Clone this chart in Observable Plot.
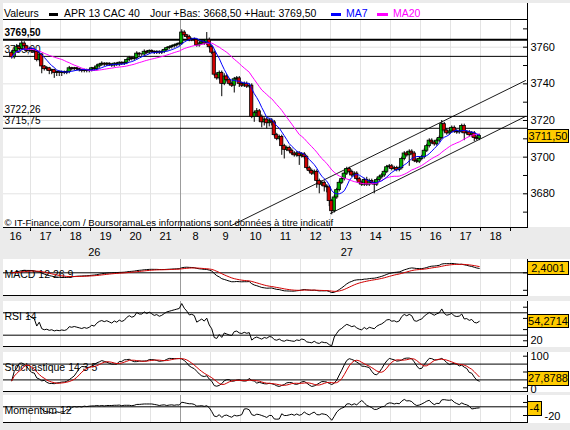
<!DOCTYPE html>
<html><head><meta charset="utf-8">
<script src="https://cdn.jsdelivr.net/npm/d3@7"></script>
<script src="https://cdn.jsdelivr.net/npm/@observablehq/plot@0.6"></script>
<style>
html,body{margin:0;padding:0;background:#ebebeb;}
#wrap{position:relative;width:570px;height:430px;overflow:hidden;background:#ebebeb;font-family:"Liberation Sans",Arial,sans-serif;font-size:11px;color:#000;}
.white{position:absolute;background:#fff;}
.frame{position:absolute;box-sizing:border-box;border-right:1px solid #000;border-bottom:1px solid #000;}
.box{position:absolute;box-sizing:border-box;background:#ffcc00;border:1px solid #000;text-align:center;font-size:11px;line-height:12px;height:14px;}
.hdr{position:absolute;top:7px;font-size:10.5px;line-height:12px;white-space:nowrap;}
.sw{position:absolute;top:13px;height:3px;}
#wrap svg{position:absolute;left:0;overflow:visible;}
</style></head>
<body><div id="wrap"></div>
<script>
// ---------- data ----------
const hourLabels = ["16","17","18","19","20","21","8","9","10","11","12","13","14","15","16","17","18"];
const dayLabels = ["26","27"];
const dayLabelBars = [33, 134];
const firstOpen = 3757;
const closes = [
3754.5,3758,3760,3759,3762,3760.5,3758,3759,3758,3757.5,
3753,3756,3749.5,3748,3748.5,3747,3747.5,3746,3746.5,3746,
3746.5,3746,3746.5,3748.5,3748,3748.5,3748,3747.5,3747,3747.5,
3747,3747.5,3748.5,3748,3749.5,3750.5,3751,3750.5,3751,3750.5,
3750,3751,3750.5,3751.5,3751,3751.5,3753,3754,3753.5,3754,
3756.5,3756,3756,3757.5,3757,3758,3757.5,3757,3757.5,3757,
3757.5,3758.5,3759.5,3760,3760.5,3761,3761.5,3762,3768,3766.5,
3765.5,3764,3764.5,3764,3761,3762,3763,3762,3764,3760,
3757,3745,3743,3746,3740,3744,3742,3740,3739,3742.5,
3743,3740,3739,3740,3738.5,3739,3722,3724,3725,3722,
3719,3720.5,3718.5,3720,3719,3712,3710,3711,3706,3704,
3705,3703.5,3702,3701,3702,3700.5,3701.5,3700,3694,3692.5,
3691,3692,3687,3685,3686,3684,3683.5,3676,3670.5,3678,
3682,3686,3688,3691,3693.5,3692,3690,3691,3688,3686,
3685,3687.5,3685,3687,3686,3685,3687.5,3689,3690,3692,
3694.5,3695,3693.5,3694,3693,3694,3699,3702,3701,3703,
3702,3698,3697.5,3699,3700,3703.5,3706,3709,3708,3707,
3709,3710.5,3718,3714.5,3713,3714,3716,3714,3713.5,3714,
3717,3713,3713.5,3712,3713,3710.5,3710,3711.5];
const hiExt = [
1,1,1.5,1,1.5,1,0.5,1,0.5,0.5, 0.5,1,0.5,0.5,1,0.5,0.5,0.5,0.5,0.5,
0.5,0.5,0.5,1,0.5,0.5,0.5,0.5,0.5,0.5, 0.5,0.5,0.5,0.5,1,0.5,1,0.5,0.5,0.5,
0.5,0.5,0.5,0.5,0.5,0.5,0.5,1,0.5,0.5, 1,0.5,0.5,1,0.5,0.5,0.5,0.5,0.5,0.5,
0.5,0.5,0.5,0.5,0.5,0.5,0.5,0.5,1.5,1, 0.5,1,0.5,0.5,0.5,0.5,0.5,0.5,4,1,
1,1,1,1,1,1.5,1,1,1,1, 1,1,1,1,1,1,1,1,1.5,1,
1,1,1,1,1,1,1,1,1,1, 1,1,1,1,1,1,1,1,1,1,
1,1,1,1,1,1,1,1,1,1, 1,1,1,1,1,1,1,1,1,1,
1,1,1.5,1,1,1,1,1,1,1, 1,1,1,1,1,1,1,1,1,1,
1,1,1,1,1,1,1,1,1,1, 1,1,2,1,1,1,1,1,1,1,
1,1,1,1,1,1,1,1];
const loExt = [
1,1,1,1,1,1,1,1,1,1, 1,1,4,1,1,2,2,3,2,2,
2,1,1,1,1,1,1,1,1,1, 1,1,1,1,1,1,1,1,1,1,
1,1,1,1,1,1,1,1,1,1, 1,1,1,1,1,1,1,1,1,1,
1,1,1,1,1,1,1,1,1,1, 1,1,1,1,1,1,1,1,1,1,
1,1,1,1,7,1,1,1,1,4, 1,2,1,1,1,1,1,3,2,3,
3,2,3,2,2,1,1,1,5,5, 1,1,1,1,1,5,1,1,1,1,
1,1,4,5,1,3,3,3,2,1, 1,1,1,1,1,1,1,1,1,1,
1,1,1,1,1,5,1,1,1,1, 1,1,1,1,1,1,1,1,1,6,
1,1,1,1,1,1,1,1,1,1, 1,1,1,1,1,1,1,1,1,1,
1,4,1,1,1,2,1,1];
const levelValues = [3764, 3755, 3722.26, 3715.75];
const levelLabels = ["3769,50", "3755,00", "3722,26", "3715,75"];
const channelUpper = [{k: 87.9, v: 3662.7}, {k: 205.5, v: 3741.8}];
const channelLower = [{k: 127.5, v: 3669.3}, {k: 205.5, v: 3722.2}];
const priceTicks = [3680, 3700, 3720, 3740, 3760];
const priceMinorTicks = [3670, 3690, 3710, 3730, 3750, 3770];
const lastPrice = 3711.5, lastPriceText = "3711,50";
const credit = "© IT-Finance.com / BoursoramaLes informations sont données à titre indicatif";
const indicatorNames = ["MACD 12 26 9", "RSI 14", "Stochastique 14 3 5", "Momentum 12"];
const indicatorLast = [2.4001, 54.2714, 27.8788, -4];
const indicatorLastText = ["2,4001", "54,2714", "27,8788", "-4"];

// ---------- derived ----------
const FONT = '"Liberation Sans", Arial, sans-serif';
const GREEN = "#00b000", RED = "#d00000";
const xDomain = [-3.3, 206.3];
const dayBreak = 67.5;
const hourTicks = hourLabels.map((_, j) => 12 * (j + 1) - 4.5);
const hourLabelData = hourLabels.map((t, j) => ({k: 12 * j + 1.5, t}));
const dayLabelData = dayLabels.map((t, j) => ({k: dayLabelBars[j], t}));
const N = closes.length;
const opens = closes.map((c, i) => i ? closes[i - 1] : firstOpen);
const highs = closes.map((c, i) => Math.max(opens[i], c) + hiExt[i]);
const lows = closes.map((c, i) => Math.min(opens[i], c) - loExt[i]);
const candles = closes.map((c, i) => ({i, o: opens[i], c, h: highs[i], l: lows[i]}));
const up = candles.filter(d => d.c >= d.o), down = candles.filter(d => d.c < d.o);
const levelData = levelValues.map((v, i) => ({v, t: levelLabels[i]}));

// indicators
function ema(arr, n) { const a = 2 / (n + 1); const out = []; arr.forEach((v, i) => out.push(i ? a * v + (1 - a) * out[i - 1] : v)); return out; }
function sma(arr, n) { return arr.map((v, i) => d3.mean(arr.slice(Math.max(0, i - n + 1), i + 1))); }
const e12 = ema(closes, 12), e26 = ema(closes, 26);
const macd = e12.map((v, i) => v - e26[i]);
const sig = ema(macd, 9);
const rsi = []; { let ag = 0, al = 0; for (let i = 1; i < N; i++) { const d = closes[i] - closes[i - 1]; const n = Math.min(i, 14); ag = (ag * (n - 1) + Math.max(d, 0)) / n; al = (al * (n - 1) + Math.max(-d, 0)) / n; if (i >= 6) rsi.push({i, v: al === 0 ? 100 : 100 - 100 / (1 + ag / al)}); } }
const fastK = closes.map((c, i) => { const lo = d3.min(lows.slice(Math.max(0, i - 13), i + 1)); const hi = d3.max(highs.slice(Math.max(0, i - 13), i + 1)); return hi > lo ? 100 * (c - lo) / (hi - lo) : 50; });
const slowK = sma(fastK, 3), stochD = sma(slowK, 5);
const mom = []; for (let i = 12; i < N; i++) mom.push({i, v: closes[i] - closes[i - 12]});
const toPts = arr => arr.map((v, i) => ({i, v}));

// ---------- layout ----------
const wrap = document.getElementById("wrap");
function div(cls, x, y, w, h, extra) { const d = document.createElement("div"); d.className = cls; Object.assign(d.style, {left: x + "px", top: y + "px", width: w + "px", height: h + "px"}, extra || {}); wrap.appendChild(d); return d; }
function place(svg, top) { svg.style.top = top + "px"; wrap.appendChild(svg); }
function box(yc, text, w, h) { h = h || 14; const b = div("box", 527, Math.round(yc - h / 2), w, h, {lineHeight: (h - 2) + "px"}); b.textContent = text; }
function hdr(x, text, color) { const d = document.createElement("div"); d.className = "hdr"; d.style.left = x + "px"; if (color) d.style.color = color; d.textContent = text; wrap.appendChild(d); }

// main panel background + frame
div("white", 3, 3, 567, 224);
div("frame", 3, 3, 525, 225);
div("white", 3, 19, 524, 1, {background: "#000"});
hdr(4, "Valeurs");
div("sw", 49, 13, 9, 3, {background: "#000"});
hdr(64, "APR 13 CAC 40");
hdr(150, "Jour +Bas: 3668,50 +Haut: 3769,50");
div("sw", 331, 13, 10, 3, {background: "#0000ff"});
hdr(346, "MA7", "#0000ff");
div("sw", 377, 13, 11, 3, {background: "#ff00ff"});
hdr(393, "MA20", "#ff00ff");

const style = {background: "transparent", fontFamily: FONT, fontSize: "11px", color: "#000", overflow: "visible"};
const MAIN_TOP = 20;
const main = Plot.plot({
  width: 570, height: 242, marginTop: 0, marginRight: 43, marginBottom: 35, marginLeft: 3,
  x: {domain: xDomain, axis: null}, y: {domain: [3661.61, 3774.57], axis: null}, style,
  marks: [
    Plot.ruleX(hourTicks.filter(k => k !== dayBreak), {stroke: "#e3e3e3"}),
    Plot.ruleY(priceTicks, {stroke: "#e3e3e3"}),
    Plot.ruleX([dayBreak], {stroke: "#9c9c9c"}),
    Plot.ruleY(levelData.slice(0, 1), {y: "v", stroke: "#000", strokeWidth: 2}),
    Plot.ruleY(levelData.slice(1), {y: "v", stroke: "#000"}),
    Plot.text(levelData.slice(0, 1), {y: "v", text: "t", frameAnchor: "left", textAnchor: "start", dx: 1, dy: -7, fontWeight: "bold", fontSize: 10}),
    Plot.text(levelData.slice(1), {y: "v", text: "t", frameAnchor: "left", textAnchor: "start", dx: 1, dy: -7, fontSize: 10}),
    Plot.text([credit], {text: d => d, frameAnchor: "bottom-left", textAnchor: "start", lineAnchor: "bottom", dx: 1, dy: -2, fontSize: 9.6}),
    Plot.line(channelUpper, {x: "k", y: "v", stroke: "#000", strokeWidth: 0.9, clip: true}),
    Plot.line(channelLower, {x: "k", y: "v", stroke: "#000", strokeWidth: 0.9, clip: true}),
    Plot.ruleX(candles, {x: "i", y1: "l", y2: "h", stroke: "#000"}),
    Plot.rect(up, {x1: d => d.i - 0.65, x2: d => d.i + 0.65, y1: "o", y2: "c", fill: GREEN, stroke: "#000", strokeWidth: 0.8}),
    Plot.rect(down, {x1: d => d.i - 0.65, x2: d => d.i + 0.65, y1: "o", y2: "c", fill: RED, stroke: "#000", strokeWidth: 0.8}),
    Plot.lineY(candles, Plot.windowY({k: 20, anchor: "end"}, {x: "i", y: "c", stroke: "#ff00ff", strokeWidth: 1})),
    Plot.lineY(candles, Plot.windowY({k: 7, anchor: "end"}, {x: "i", y: "c", stroke: "#0000ff", strokeWidth: 1})),
    Plot.tickY(priceTicks.concat(priceMinorTicks), {y: d => d, insetLeft: 520, stroke: "#000"}),
    Plot.text(priceTicks, {y: d => d, text: d => String(d), frameAnchor: "right", textAnchor: "start", dx: 3}),
    Plot.tickX(hourTicks, {x: d => d, insetTop: 207, insetBottom: -4, stroke: "#000"}),
    Plot.text(hourLabelData, {x: "k", text: "t", frameAnchor: "bottom", lineAnchor: "top", dy: 5}),
    Plot.text(dayLabelData, {x: "k", text: "t", frameAnchor: "bottom", lineAnchor: "top", dy: 21})
  ]
});
place(main, MAIN_TOP);
box(MAIN_TOP + main.scale("y").apply(lastPrice), lastPriceText, 42, 14);

function indicator(cfg) {
  const {top, height, domain, lines, levels, ticks, tickLabels, labelDx, name, labelDy, last, lastText, boxW, boxH} = cfg;
  div("white", 3, top, 567, height + 1);
  div("frame", 3, top, 525, height + 1);
  const p = Plot.plot({
    width: 570, height, marginTop: 0, marginBottom: 0, marginLeft: 3, marginRight: 43,
    x: {domain: xDomain, axis: null}, y: {domain, axis: null}, style,
    marks: [
      Plot.ruleX(hourTicks.filter(k => k !== dayBreak), {stroke: "#e3e3e3"}),
      Plot.ruleX([dayBreak], {stroke: "#9c9c9c"}),
      Plot.text([name], {text: d => d, frameAnchor: "top-left", textAnchor: "start", dx: 1, dy: labelDy, fontSize: 10.5}),
      Plot.ruleY(levels, {stroke: "#000"}),
      ...lines.map(l => Plot.line(l.data, {x: "i", y: "v", stroke: l.color, strokeWidth: 1, clip: true})),
      Plot.tickY(ticks, {y: d => d, insetLeft: 520, stroke: "#000"}),
      Plot.text(tickLabels, {y: "v", text: "t", frameAnchor: "right", textAnchor: "start", dx: labelDx || 3})
    ]
  });
  place(p, top);
  box(top + p.scale("y").apply(last), lastText, boxW, boxH);
}

indicator({top: 259, height: 36, domain: [-12.97, 7.6],
  lines: [{data: toPts(macd), color: "#000"}, {data: toPts(sig), color: RED}],
  levels: [0], ticks: [-10, 0], tickLabels: [], name: indicatorNames[0], labelDy: 11,
  last: indicatorLast[0], lastText: indicatorLastText[0], boxW: 42, boxH: 14});
indicator({top: 301, height: 45, domain: [9.75, 90.2],
  lines: [{data: rsi, color: "#000"}],
  levels: [70, 30], ticks: [20, 40, 60, 80], tickLabels: [{v: 20, t: "20"}], name: indicatorNames[1], labelDy: 11,
  last: indicatorLast[1], lastText: indicatorLastText[1], boxW: 42, boxH: 14});
indicator({top: 352, height: 39, domain: [-11.7, 111.7],
  lines: [{data: toPts(slowK), color: "#000"}, {data: toPts(stochD), color: RED}],
  levels: [75, 25], ticks: [0, 50, 100], tickLabels: [{v: 100, t: "100"}, {v: -6, t: "0"}], name: indicatorNames[2], labelDy: 11,
  last: indicatorLast[2], lastText: indicatorLastText[2], boxW: 42, boxH: 15});
indicator({top: 395, height: 27, domain: [-36.1, 26],
  lines: [{data: mom, color: "#000"}],
  levels: [0], ticks: [10, -20], tickLabels: [{v: -22, t: "-20"}], labelDx: 17, name: indicatorNames[3], labelDy: 11,
  last: indicatorLast[3], lastText: indicatorLastText[3], boxW: 15, boxH: 15});
</script></body></html>
